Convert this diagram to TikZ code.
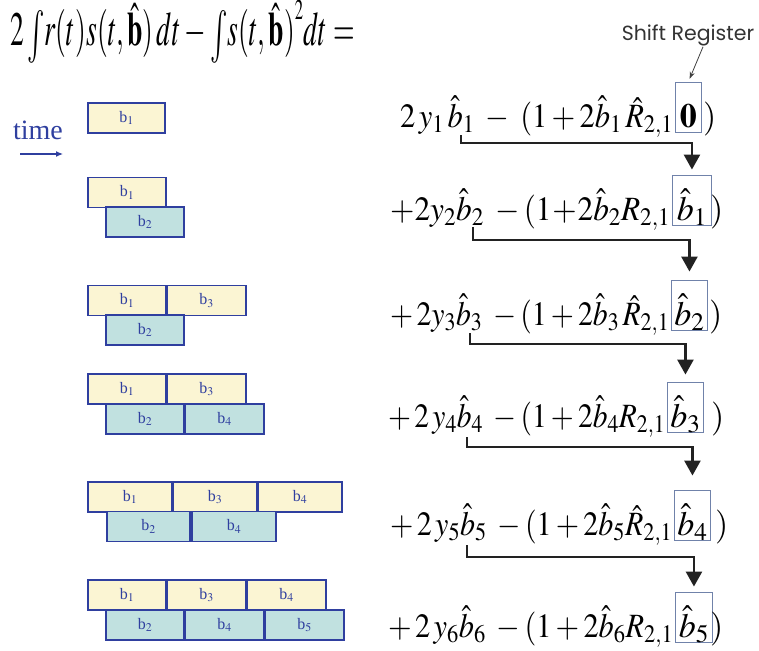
\documentclass[tikz,border=0pt]{standalone}
\usepackage{mathptmx}
\usepackage[no-math]{fontspec}
\setmainfont{Liberation Serif}
\newfontfamily\gothic{Poppins}
\usetikzlibrary{arrows.meta}
\definecolor{blkyel}{HTML}{FBF5D3}
\definecolor{blkteal}{HTML}{C1E1E0}
\definecolor{blkline}{HTML}{2F3F9F}
\definecolor{regline}{HTML}{7082AA}
\definecolor{flowcol}{HTML}{222222}
\newcommand{\tallint}{\mathop{\raisebox{-4pt}{\scalebox{1.05}[1.1]{$\int$}}}}
\tikzset{
  blk/.style={draw=blkline, line width=1.4pt, minimum height=30pt, inner sep=0pt,
    text=blkline, font=\fontsize{16}{17}\selectfont},
  yb/.style={blk, fill=blkyel},
  tb/.style={blk, fill=blkteal},
  eq/.style={anchor=base west, inner sep=0pt, font=\fontsize{34}{40}\selectfont},
  regbox/.style={draw=regline, line width=0.9pt, anchor=base west, inner xsep=0pt, inner ysep=0pt,
    text height=45pt, text depth=5pt, font=\fontsize{34}{40}\selectfont},
  flow/.style={draw=flowcol, line width=2.6pt, -{Triangle[width=16pt,length=15pt]}},
}
\begin{document}
\begin{tikzpicture}[x=1pt,y=-1pt]
\useasboundingbox (0,0) rectangle (759,650);
% top formula
\node[anchor=base west, inner sep=0pt, font=\fontsize{48}{54}\selectfont] (top) at (10,46)
  {\resizebox{345pt}{\height}{$2\tallint\! r(t)s(t,\hat{\mathbf{b}})\,dt-\tallint\! s(t,\hat{\mathbf{b}})^{\raisebox{9pt}{$\scriptscriptstyle 2$}}dt=$}};
% time
\node[text=blkline, font=\fontsize{28}{30}\selectfont, inner sep=0pt] (time) at (38,130) {time};
\coordinate (ta) at (20,154);
\coordinate (tz) at (63,154);
\draw[blkline, line width=1.2pt, -{Latex[length=7pt,width=6pt]}] (ta) -- (tz);
% blocks row 1
\node[yb, minimum width=77pt] (r1b1) at (126.5,118) {b$_1$};
% row 2
\node[yb, minimum width=78pt] (r2b1) at (127,192.5) {b$_1$};
\node[tb, minimum width=78pt] (r2b2) at (145,222) {b$_2$};
% row 3
\node[yb, minimum width=78pt] (r3b1) at (127,300.5) {b$_1$};
\node[yb, minimum width=79pt] (r3b3) at (206.5,300.5) {b$_3$};
\node[tb, minimum width=78pt] (r3b2) at (145,330) {b$_2$};
% row 4
\node[yb, minimum width=78pt] (r4b1) at (127,389) {b$_1$};
\node[yb, minimum width=79pt] (r4b3) at (206.5,389) {b$_3$};
\node[tb, minimum width=78pt] (r4b2) at (145,419) {b$_2$};
\node[tb, minimum width=79pt] (r4b4) at (224.5,419) {b$_4$};
% row 5
\node[yb, minimum width=84pt] (r5b1) at (130,497) {b$_1$};
\node[yb, minimum width=84pt] (r5b3) at (215,497) {b$_3$};
\node[yb, minimum width=84pt] (r5b4) at (300,497) {b$_4$};
\node[tb, minimum width=83pt] (r5b2) at (148.5,526.5) {b$_2$};
\node[tb, minimum width=84pt] (r5b4b) at (234,526.5) {b$_4$};
% row 6
\node[yb, minimum width=78pt] (r6b1) at (127,595) {b$_1$};
\node[yb, minimum width=79pt] (r6b3) at (206.5,595) {b$_3$};
\node[yb, minimum width=79pt] (r6b4) at (286.5,595) {b$_4$};
\node[tb, minimum width=78pt] (r6b2) at (145,625) {b$_2$};
\node[tb, minimum width=79pt] (r6b4b) at (224.5,625) {b$_4$};
\node[tb, minimum width=79pt] (r6b5) at (304.5,625) {b$_5$};
% equations
\node[eq] (e1) at (400,127) {\resizebox{273pt}{\height}{$2\,y_1\,\hat{b}_1\;-\;(1+2\hat{b}_1\,\hat{R}_{2,1}$}};
\node[regbox, minimum width=26pt] (g1) at (675,127) {$\mathbf{0}$};
\node[eq] (c1) at (703,127) {$)$};
\node[eq] (e2) at (390,220) {\resizebox{280pt}{\height}{$+2y_2\hat{b}_2\;-(1\!+\!2\hat{b}_2R_{2,1}$}};
\node[regbox, minimum width=39pt] (g2) at (672,220) {$\hat{b}_1$};
\node[eq] (c2) at (710,220) {$)$};
\node[eq] (e3) at (390,325) {\resizebox{279pt}{\height}{$+\,2y_3\hat{b}_3\;-(1+2\hat{b}_3\,\hat{R}_{2,1}$}};
\node[regbox, minimum width=36pt] (g3) at (671,325) {$\hat{b}_2$};
\node[eq] (c3) at (709,325) {$)$};
\node[eq] (e4) at (388,427) {\resizebox{277pt}{\height}{$+\,2\,y_4\hat{b}_4\;-(1+2\hat{b}_4R_{2,1}$}};
\node[regbox, minimum width=36pt] (g4) at (667,427) {$\hat{b}_3$};
\node[eq] (c4) at (711,427) {$)$};
\node[eq] (e5) at (390,535) {\resizebox{282pt}{\height}{$+\,2\,y_5\hat{b}_5\;-(1+2\hat{b}_5\hat{R}_{2,1}$}};
\node[regbox, minimum width=36pt] (g5) at (674,535) {$\hat{b}_4$};
\node[eq] (c5) at (715,535) {$)$};
\node[eq] (e6) at (388,637) {\resizebox{285pt}{\height}{$+\,2\,y_6\hat{b}_6\;-(1+2\hat{b}_6R_{2,1}$}};
\node[regbox, minimum width=37pt] (g6) at (675,637) {$\hat{b}_5$};
\node[eq] (c6) at (710,637) {$)$};
% shift register arrows
\coordinate (s1) at (461,135);
\coordinate (s2) at (473,227);
\coordinate (s3) at (470,333);
\coordinate (s4) at (467,437);
\coordinate (s5) at (467,545);
\draw[flow, shorten >=5pt] (s1) -- ++(0,8) -| (g2.north);
\draw[flow, shorten >=8pt] (s2) -- ++(0,13) -| (g3.north);
\draw[flow, shorten >=7pt] (s3) -- ++(0,11) -| (g4.north);
\draw[flow, shorten >=14pt] (s4) -- ++(0,10) -| (g5.north);
\draw[flow, shorten >=5pt] (s5) -- ++(0,12) -| (g6.north);
% shift register label
\node[font=\gothic\fontsize{20.5}{24}\selectfont, text=black!80, inner sep=1pt] (sr) at (688,35) {Shift Register};
\draw[black!75, line width=0.8pt, -{Stealth[length=7pt,width=5pt]}, shorten >=3pt] ([xshift=15pt]sr.south) -- (g1.north);
\end{tikzpicture}
\end{document}
